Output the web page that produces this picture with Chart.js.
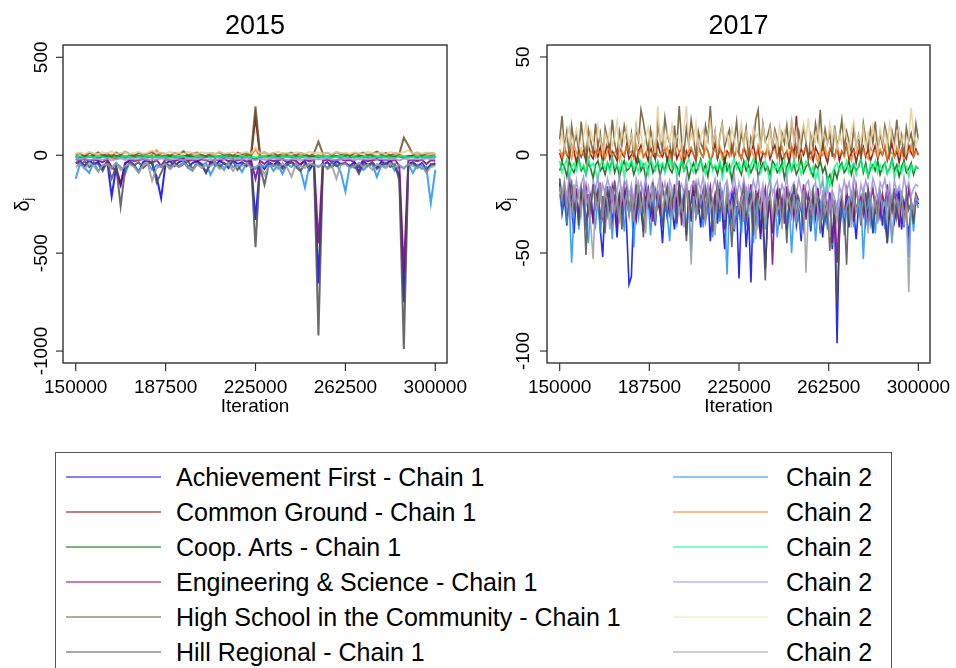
<!DOCTYPE html>
<html>
<head>
<meta charset="utf-8">
<title>Trace plots 2015 / 2017</title>
<script src="https://cdn.jsdelivr.net/npm/chart.js@4.4.1/dist/chart.umd.min.js"></script>
<style>
  body { margin: 0; background: #fff; width: 956px; height: 668px; overflow: hidden; position: relative;
         font-family: 'Liberation Sans', Arial, sans-serif; }
  canvas { position: absolute; top: 0; }
  #chart2015 { left: 0; }
  #chart2017 { left: 478px; }
  #legend { position: absolute; left: 55px; top: 452px; width: 835px; height: 260px; border: 1px solid #555; }
  .swatch { position: absolute; height: 2px; width: 95px; }
  .label { position: absolute; font-size: 25px; line-height: 30px; white-space: nowrap; color: #000; }
</style>
</head>
<body>
<canvas id="chart2015" width="478" height="440"></canvas>
<canvas id="chart2017" width="478" height="440"></canvas>
<div id="legend"></div>
<script>
// Iteration numbers of the kept draws (2015 thinned more than 2017)
const iterations2015 = [150000, 151875, 153750, 155625, 157500, 159375, 161250, 163125, 165000, 166875,
  168750, 170625, 172500, 174375, 176250, 178125, 180000, 181875, 183750, 185625,
  187500, 189375, 191250, 193125, 195000, 196875, 198750, 200625, 202500, 204375,
  206250, 208125, 210000, 211875, 213750, 215625, 217500, 219375, 221250, 223125,
  225000, 226875, 228750, 230625, 232500, 234375, 236250, 238125, 240000, 241875,
  243750, 245625, 247500, 249375, 251250, 253125, 255000, 256875, 258750, 260625,
  262500, 264375, 266250, 268125, 270000, 271875, 273750, 275625, 277500, 279375,
  281250, 283125, 285000, 286875, 288750, 290625, 292500, 294375, 296250, 298125, 300000];
const iterations2017 = [150000, 151000, 152000, 153000, 154000, 155000, 156000, 157000, 158000, 159000,
  160000, 161000, 162000, 163000, 164000, 165000, 166000, 167000, 168000, 169000,
  170000, 171000, 172000, 173000, 174000, 175000, 176000, 177000, 178000, 179000,
  180000, 181000, 182000, 183000, 184000, 185000, 186000, 187000, 188000, 189000,
  190000, 191000, 192000, 193000, 194000, 195000, 196000, 197000, 198000, 199000,
  200000, 201000, 202000, 203000, 204000, 205000, 206000, 207000, 208000, 209000,
  210000, 211000, 212000, 213000, 214000, 215000, 216000, 217000, 218000, 219000,
  220000, 221000, 222000, 223000, 224000, 225000, 226000, 227000, 228000, 229000,
  230000, 231000, 232000, 233000, 234000, 235000, 236000, 237000, 238000, 239000,
  240000, 241000, 242000, 243000, 244000, 245000, 246000, 247000, 248000, 249000,
  250000, 251000, 252000, 253000, 254000, 255000, 256000, 257000, 258000, 259000,
  260000, 261000, 262000, 263000, 264000, 265000, 266000, 267000, 268000, 269000,
  270000, 271000, 272000, 273000, 274000, 275000, 276000, 277000, 278000, 279000,
  280000, 281000, 282000, 283000, 284000, 285000, 286000, 287000, 288000, 289000,
  290000, 291000, 292000, 293000, 294000, 295000, 296000, 297000, 298000, 299000, 300000];

const xTicks = [150000, 187500, 225000, 262500, 300000];
const yTicks2015 = [500, 0, -500, -1000];
const yTicks2017 = [50, 0, -50, -100];

const schools = ['Achievement First', 'Common Ground', 'Coop. Arts', 'Engineering & Science',
  'High School in the Community', 'Hill Regional'];

// ---- 2015 draws ----
const af1_2015 = [-40,-30,-55,-25,-45,-35,-70,-30,-210,-60,-150,-40,-30,-50,-85,-35,-25,-45,-110,-220,
  -40,-30,-55,-35,-25,-60,-40,-30,-45,-90,-35,-50,-30,-40,-65,-25,-45,-35,-55,-30,
  -330,-45,-70,-35,-50,-30,-60,-40,-35,-55,-45,-30,-75,-40,-655,-50,-35,-60,-30,-45,
  -40,-55,-35,-85,-30,-50,-40,-65,-35,-45,-30,-60,-100,-750,-45,-35,-55,-40,-70,-50,-40];
const af2_2015 = [-120,-40,-65,-90,-35,-80,-50,-45,-70,-40,-60,-95,-35,-55,-85,-45,-40,-75,-50,-60,
  -40,-70,-45,-55,-35,-65,-80,-45,-50,-40,-100,-55,-45,-75,-35,-60,-50,-85,-40,-55,
  -70,-45,-60,-40,-80,-50,-95,-45,-60,-40,-75,-165,-50,-45,-60,-40,-70,-55,-45,-90,
  -185,-50,-65,-40,-75,-55,-45,-110,-50,-60,-40,-80,-55,-65,-45,-90,-50,-70,-60,-245,-75];
const cg1_2015 = [-5,-10,0,-8,-3,-12,-6,-2,-9,-15,-4,-7,-1,-10,-5,-8,-3,-11,-6,-2,
  -9,-4,-7,-12,-3,-6,-10,-1,-8,-5,-2,-9,-6,-11,-3,-7,-4,-10,-2,-8,
  200,-5,-9,-3,-7,-12,-4,-8,-1,-6,-10,-3,-7,-5,-2,-9,-6,-11,-4,-8,
  -3,-7,-10,-2,-6,-9,-4,-12,-5,-1,-8,-6,-3,-10,-7,-4,-9,-2,-6,-11,-5];
const cg2_2015 = [-2,-6,1,-4,-8,0,-3,-7,2,-5,-1,-9,-3,0,-6,-2,-4,3,25,-5,
  -1,-7,-3,0,-5,-8,-2,1,-4,-6,-1,-3,-7,0,-5,-2,-8,-4,1,-3,
  30,-6,-2,-5,0,-7,-3,-1,-4,-8,2,-5,-2,-6,-1,-3,-7,0,-4,-2,
  -6,1,-3,-5,-8,-2,0,-4,-6,-1,-3,-7,2,-5,-2,-4,0,-6,-3,-1,-4];
const coop1_2015 = [-8,-12,-5,-10,-7,-14,-6,-9,-11,-4,-8,-13,-7,-10,-5,-9,-12,-6,-8,-11,
  -5,-10,-7,-13,-9,-4,-8,-11,-6,-10,-7,-12,-5,-9,-8,-14,-6,-10,-7,-11,
  -20,-8,-12,-5,-9,-7,-13,-6,-10,-8,-11,-4,-9,-7,-12,-6,-10,-8,-5,-13,
  -7,-9,-11,-6,-8,-12,-5,-10,-7,-9,-13,-6,-8,-11,-7,-4,-10,-8,-12,-6,-9];
const coop2_2015 = [-10,-6,-13,-8,-11,-5,-9,-14,-7,-12,-10,-6,-8,-13,-9,-11,-5,-10,-7,-12,
  -9,-14,-6,-10,-8,-11,-13,-7,-9,-5,-12,-10,-8,-6,-11,-9,-13,-7,-10,-8,
  -12,-6,-9,-11,-7,-14,-8,-10,-5,-12,-9,-7,-11,-13,-6,-10,-8,-12,-9,-7,
  -11,-5,-10,-13,-8,-6,-12,-9,-7,-11,-10,-14,-6,-8,-12,-9,-5,-11,-7,-10,-8];
const eng1_2015 = [-20,-25,-18,-30,-22,-28,-35,-20,-60,-80,-150,-45,-22,-30,-25,-20,-28,-40,-24,-55,
  -20,-26,-30,-22,-18,-28,-24,-32,-20,-26,-35,-22,-28,-19,-30,-24,-27,-21,-33,-25,
  -120,-28,-45,-22,-30,-26,-20,-35,-24,-28,-50,-22,-30,-25,-450,-28,-22,-32,-25,-20,
  -28,-24,-35,-60,-22,-30,-26,-20,-28,-25,-32,-22,-55,-600,-28,-24,-30,-22,-45,-26,-28];
const eng2_2015 = [-18,-22,-16,-25,-20,-17,-23,-19,-26,-21,-15,-24,-18,-22,-20,-17,-25,-19,-23,-16,
  -21,-24,-18,-20,-26,-17,-22,-19,-15,-23,-20,-25,-18,-21,-16,-24,-19,-22,-17,-20,
  -25,-18,-23,-21,-16,-22,-19,-24,-20,-17,-26,-21,-18,-23,-19,-20,-15,-22,-24,-18,
  -21,-17,-25,-19,-22,-20,-16,-23,-18,-24,-21,-19,-26,-17,-20,-22,-18,-23,-16,-21,-19];
const hsc1_2015 = [5,10,-5,12,3,15,0,8,-8,14,2,18,6,-3,11,4,9,16,1,13,
  7,-2,12,5,20,0,9,14,3,-6,11,6,15,2,8,-4,13,5,10,1,
  250,8,15,3,11,-2,9,6,14,0,12,4,-5,10,70,7,13,2,16,5,
  9,-3,11,6,14,1,8,18,4,12,-1,10,7,90,50,5,13,2,9,11,6];
const hsc2_2015 = [8,14,6,18,10,5,15,9,20,7,12,16,6,11,18,8,13,25,10,14,
  7,16,9,12,5,17,11,8,15,10,13,6,19,9,12,15,7,11,16,8,
  40,10,14,7,12,18,9,13,6,15,11,8,17,10,14,9,12,6,16,11,
  13,8,15,10,7,18,12,9,14,6,16,10,12,15,25,9,13,8,14,11,10];
const hill1_2015 = [-35,-50,-30,-60,-40,-45,-80,-35,-120,-55,-260,-70,-40,-50,-35,-65,-45,-30,-140,-90,
  -40,-55,-35,-60,-45,-30,-70,-40,-50,-85,-45,-35,-60,-40,-55,-30,-75,-45,-50,-40,
  -470,-60,-150,-45,-55,-40,-70,-50,-35,-60,-80,-45,-55,-40,-920,-50,-65,-35,-55,-45,
  -40,-60,-50,-95,-45,-55,-35,-70,-50,-40,-60,-45,-130,-990,-55,-40,-65,-50,-85,-45,-50];
const hill2_2015 = [-60,-45,-70,-40,-55,-85,-50,-45,-65,-40,-75,-55,-45,-60,-90,-50,-40,-130,-65,-55,
  -45,-70,-50,-60,-40,-55,-75,-45,-65,-50,-55,-40,-70,-60,-45,-80,-50,-55,-40,-65,
  -60,-45,-100,-55,-50,-70,-40,-60,-110,-45,-55,-65,-40,-50,-60,-45,-70,-55,-120,-50,
  -45,-65,-55,-40,-60,-50,-75,-45,-55,-65,-40,-60,-50,-70,-45,-55,-65,-50,-90,-60,-55];

// ---- 2017 draws ----
const af1_2017 = [-14,-30,-22,-36,-18,-27,-40,-20,-31,-24,-17,-35,-26,-21,-33,
  -25,-19,-38,-52,-23,-29,-16,-34,-27,-42,-21,-30,-18,-37,-66,
  -62,-26,-33,-20,-28,-39,-22,-17,-31,-25,-36,-19,-29,-45,-24,
  -32,-20,-27,-38,-23,-16,-30,-26,-41,-21,-34,-18,-28,-24,-37,
  -22,-31,-19,-44,-27,-23,-35,-20,-29,-48,-25,-33,-18,-39,-26,
  -63,-28,-22,-47,-30,-65,-24,-36,-21,-43,-27,-58,-32,-23,-40,
  -26,-19,-34,-29,-22,-38,-25,-31,-17,-36,-28,-44,-21,-30,-26,
  -39,-23,-32,-19,-28,-42,-25,-35,-20,-48,-30,-96,-38,-27,-33,
  -24,-37,-21,-29,-43,-26,-31,-19,-35,-28,-23,-40,-27,-32,-20,
  -36,-25,-45,-29,-22,-34,-27,-18,-38,-24,-31,-41,-26,-33,-22, -25];
const af2_2017 = [-20,-28,-17,-35,-24,-55,-30,-21,-38,-26,-19,-33,-45,-23,-29,
  -36,-22,-40,-27,-18,-31,-25,-43,-20,-34,-28,-24,-39,-21,-30,
  -26,-47,-23,-32,-19,-37,-28,-22,-41,-25,-33,-18,-29,-36,-24,
  -31,-44,-20,-27,-35,-23,-30,-17,-38,-26,-49,-22,-32,-28,-21,
  -37,-25,-30,-19,-42,-27,-23,-34,-20,-29,-61,-26,-35,-22,-31,
  -28,-40,-24,-33,-19,-27,-45,-22,-36,-30,-25,-38,-21,-29,-34,
  -23,-42,-27,-31,-20,-36,-25,-50,-28,-22,-33,-39,-24,-30,-26,
  -35,-21,-44,-29,-24,-32,-27,-38,-20,-46,-31,-25,-34,-23,-41,
  -28,-33,-22,-37,-26,-30,-24,-53,-29,-21,-35,-27,-40,-23,-32,
  -26,-38,-22,-31,-45,-27,-24,-36,-20,-33,-28,-52,-25,-39,-23, -27];
const cg1_2017 = [1,-3,4,0,-2,5,2,-4,3,-1,2,-3,5,0,-2,
  3,-1,4,-4,1,6,-2,2,0,-3,4,1,-1,5,-2,
  0,3,-4,2,5,-1,1,-3,4,0,-2,6,1,-1,3,
  -3,2,0,5,-2,1,4,-4,2,-1,3,0,-3,5,1,
  -1,4,2,-3,0,6,-2,3,1,-4,2,0,5,-1,3,
  1,-2,4,0,-3,2,5,-1,3,-4,1,0,4,-2,2,
  5,-1,3,-3,0,2,-4,4,1,20,-2,3,0,5,-1,
  2,-3,4,1,-2,6,0,-4,3,1,-1,4,-3,2,0,
  5,-2,1,3,-4,2,0,4,-1,3,-3,1,5,-2,2,
  0,4,-3,1,6,-1,2,-4,3,0,-2,5,1,-1,3, 0];
const cg2_2017 = [3,-1,4,0,2,-2,5,1,-1,3,0,4,-3,2,1,
  -1,3,0,5,-2,2,4,-1,1,3,-3,2,0,4,1,
  2,-2,5,0,3,-1,1,4,-3,2,6,0,-1,3,1,
  4,-2,2,0,5,1,-3,3,-1,2,4,0,-2,3,1,
  -1,5,2,-3,1,3,0,4,-2,2,1,-1,5,0,3,
  1,-2,4,2,-1,3,0,-3,5,1,2,-1,4,0,2,
  3,-1,1,4,-2,2,0,5,-3,1,3,-1,2,4,0,
  -2,3,1,-4,2,0,4,-1,3,1,-2,5,0,2,-1,
  4,0,-3,2,1,5,-1,3,0,-2,4,1,2,-1,3,
  0,5,-2,2,1,-1,4,0,3,-3,2,1,5,-1,2, 1];
const coop1_2017 = [-8,-4,-6,-11,-3,-7,-9,-5,-2,-8,-6,-10,-4,-7,-12,
  -5,-3,-8,-6,-10,-4,-7,-2,-9,-5,-11,-6,-3,-8,-7,
  -4,-10,-6,-2,-8,-5,-12,-7,-3,-9,-6,-4,-11,-5,-8,
  -2,-7,-9,-4,-6,-10,-3,-8,-5,-12,-7,-4,-9,-6,-2,
  -8,-5,-11,-3,-7,-6,-10,-4,-9,-2,-8,-5,-13,-6,-4,
  -7,-10,-3,-8,-5,-9,-6,-2,-11,-7,-4,-8,-6,-10,-3,
  -5,-9,-7,-4,-12,-6,-3,-8,-5,-10,-7,-2,-9,-6,-4,
  -8,-11,-5,-7,-3,-9,-6,-13,-10,-15,-8,-12,-6,-4,-9,
  -7,-3,-10,-5,-8,-6,-2,-9,-4,-11,-7,-5,-8,-3,-10,
  -6,-4,-9,-7,-2,-8,-5,-11,-6,-3,-9,-7,-4,-10,-6, -7];
const coop2_2017 = [-3,-9,-5,-2,-12,-6,-4,-8,-3,-7,-5,-10,-2,-6,-4,
  -8,-13,-5,-3,-7,-4,-9,-2,-6,-5,-8,-3,-11,-4,-6,
  -2,-7,-5,-9,-3,-6,-4,-10,-2,-5,-8,-3,-6,-4,-9,
  -5,-2,-7,-4,-11,-6,-3,-8,-5,-2,-6,-9,-4,-7,-3,
  -6,-10,-4,-2,-8,-5,-7,-3,-12,-6,-4,-9,-5,-2,-7,
  -4,-8,-6,-3,-10,-5,-2,-7,-4,-9,-6,-3,-8,-15,-5,
  -7,-4,-9,-6,-3,-11,-5,-8,-2,-6,-4,-10,-7,-3,-5,
  -9,-6,-12,-8,-17,-14,-20,-11,-16,-9,-6,-4,-8,-5,-7,
  -3,-9,-6,-4,-10,-5,-2,-8,-6,-11,-4,-7,-3,-9,-5,
  -8,-4,-10,-6,-3,-12,-7,-5,-9,-4,-6,-11,-5,-8,-6, -7];
const eng1_2017 = [-15,-24,-18,-30,-13,-22,-27,-17,-33,-20,-25,-16,-29,-21,-35,
  -18,-26,-14,-31,-22,-19,-28,-16,-24,-37,-20,-27,-15,-23,-30,
  -19,-25,-32,-17,-22,-28,-14,-26,-21,-34,-18,-24,-29,-16,-23,
  -27,-20,-31,-15,-25,-19,-36,-22,-17,-28,-24,-13,-30,-21,-26,
  -18,-33,-23,-16,-27,-20,-29,-14,-25,-38,-19,-24,-31,-17,-22,
  -28,-21,-34,-18,-26,-15,-30,-23,-19,-40,-24,-17,-32,-20,-56,
  -25,-18,-29,-22,-35,-16,-27,-21,-31,-19,-24,-28,-15,-33,-20,
  -26,-22,-30,-17,-38,-24,-20,-29,-19,-45,-23,-55,-28,-21,-32,
  -18,-27,-24,-34,-16,-25,-21,-30,-19,-36,-23,-17,-28,-22,-31,
  -20,-26,-15,-33,-23,-29,-18,-37,-21,-25,-30,-17,-24,-28,-20, -23];
const eng2_2017 = [-12,-19,-14,-22,-10,-17,-24,-13,-20,-15,-11,-21,-16,-25,-13,
  -18,-11,-23,-15,-20,-12,-17,-26,-14,-19,-10,-22,-16,-13,-21,
  -15,-24,-12,-18,-14,-20,-11,-23,-17,-13,-21,-16,-10,-19,-14,
  -22,-13,-17,-25,-12,-18,-15,-20,-11,-24,-16,-14,-21,-13,-18,
  -11,-20,-15,-23,-17,-12,-19,-14,-26,-16,-13,-21,-18,-10,-22,
  -14,-19,-12,-24,-16,-20,-13,-18,-11,-22,-15,-27,-17,-12,-20,
  -16,-13,-21,-15,-19,-11,-23,-17,-14,-20,-12,-18,-25,-15,-13,
  -21,-17,-14,-24,-19,-12,-26,-15,-28,-18,-22,-30,-16,-20,-13,
  -19,-14,-22,-11,-17,-24,-15,-20,-13,-18,-21,-12,-16,-23,-14,
  -17,-12,-20,-15,-25,-13,-19,-16,-22,-11,-18,-14,-21,-17,-15, -16];
const hsc1_2017 = [8,20,3,12,-1,15,6,10,2,17,5,-3,13,7,1,
  16,4,11,-2,14,8,3,18,6,0,12,5,15,9,2,
  11,-1,14,7,23,17,9,2,13,5,-2,16,8,3,19,
  10,6,-3,15,4,25,7,1,14,5,18,9,-1,12,6,
  3,15,8,25,5,12,-2,10,16,4,9,13,1,7,17,
  2,11,6,14,-1,9,5,18,23,3,16,7,10,15,4,
  13,8,-2,11,6,15,3,17,9,1,12,5,14,7,-3,
  10,4,16,8,23,2,13,6,11,-1,15,5,9,18,3,
  12,7,1,14,5,10,-2,16,8,3,13,6,17,2,11,
  5,15,9,0,12,6,18,4,10,-1,14,7,11,3,16, 8];
const hsc2_2017 = [5,11,3,9,14,2,8,13,6,1,10,16,4,12,7,
  3,15,8,1,11,6,13,4,9,17,2,12,7,14,5,
  10,3,16,8,12,2,9,14,5,11,1,25,7,13,4,
  12,6,15,3,10,8,1,14,25,5,11,7,16,2,9,
  13,4,10,17,6,12,2,9,15,7,11,3,14,8,1,
  10,16,5,12,7,3,14,9,11,4,15,8,2,13,6,
  11,3,15,7,12,5,9,18,6,13,2,10,16,8,19,
  4,11,7,14,2,12,9,5,16,8,13,3,10,6,15,
  9,2,12,17,5,10,7,14,3,11,6,15,8,1,13,
  7,12,4,16,9,3,11,14,6,10,2,8,24,11,5, 9];
const hill1_2017 = [-12,-25,-16,-31,-19,-14,-28,-22,-36,-17,-24,-51,-20,-29,-15,
  -26,-18,-33,-21,-40,-16,-27,-23,-13,-30,-19,-38,-24,-17,-28,
  -21,-34,-15,-26,-19,-42,-23,-18,-29,-14,-32,-25,-20,-37,-22,
  -16,-30,-24,-19,-35,-13,-27,-21,-44,-18,-31,-25,-15,-28,-22,
  -33,-17,-26,-20,-39,-23,-15,-29,-21,-36,-18,-27,-47,-24,-19,
  -30,-22,-16,-34,-25,-20,-41,-18,-28,-23,-35,-64,-27,-19,-38,
  -21,-29,-17,-32,-24,-45,-20,-26,-15,-33,-22,-28,-37,-19,-25,
  -31,-18,-27,-23,-40,-20,-34,-26,-49,-22,-30,-76,-42,-25,-29,
  -56,-21,-33,-18,-28,-24,-36,-20,-30,-17,-27,-39,-23,-31,-19,
  -26,-34,-45,-21,-29,-17,-32,-25,-22,-37,-19,-28,-24,-35,-20, -23];
const hill2_2017 = [-16,-23,-13,-28,-19,-33,-15,-25,-20,-30,-17,-26,-22,-36,-53,
  -21,-27,-14,-32,-19,-24,-38,-17,-29,-22,-35,-16,-26,-20,-31,
  -18,-34,-23,-15,-28,-21,-40,-19,-25,-17,-32,-24,-14,-29,-20,
  -26,-16,-33,-22,-18,-30,-24,-37,-15,-27,-56,-21,-31,-19,-25,
  -20,-35,-17,-28,-23,-41,-18,-26,-21,-33,-16,-29,-24,-38,-19,
  -27,-22,-34,-17,-30,-25,-20,-43,-23,-28,-18,-36,-24,-21,-32,
  -19,-29,-25,-38,-17,-26,-22,-31,-20,-35,-24,-27,-18,-60,-28,
  -23,-33,-20,-27,-36,-18,-30,-25,-42,-21,-28,-34,-24,-19,-31,
  -26,-22,-37,-20,-29,-24,-33,-18,-27,-40,-21,-30,-23,-35,-19,
  -28,-24,-32,-20,-44,-26,-22,-30,-18,-36,-25,-70,-23,-29,-21, -24];

// Series per school: [chain 1, chain 2]
const series2015 = [[af1_2015, af2_2015], [cg1_2015, cg2_2015], [coop1_2015, coop2_2015],
  [eng1_2015, eng2_2015], [hsc1_2015, hsc2_2015], [hill1_2015, hill2_2015]];
const series2017 = [[af1_2017, af2_2017], [cg1_2017, cg2_2017], [coop1_2017, coop2_2017],
  [eng1_2017, eng2_2017], [hsc1_2017, hsc2_2017], [hill1_2017, hill2_2017]];

// Line colours (rgb), chain 1 and chain 2
const chain1Colors = ['0,0,255', '128,0,0', '0,100,0', '128,0,128', '105,85,45', '80,80,80'];
const chain2Colors = ['30,144,255', '240,128,32', '0,255,127', '159,145,225', '232,205,150', '155,155,160'];
// legend swatches are lighter (semi-transparent) versions
const legendChain2Colors = ['30,144,255', '240,128,32', '0,255,127', '159,145,225', '245,222,179', '160,160,160'];

const FONT = '"Liberation Sans", Arial, sans-serif';

// Draws the Stata-like frame: box, ticks, rotated y labels, titles
const framePlugin = {
  id: 'frame',
  afterDraw(chart, args, opts) {
    const { ctx, chartArea: a } = chart;
    const x = chart.scales.x, y = chart.scales.y;
    ctx.save();
    ctx.strokeStyle = '#333';
    ctx.lineWidth = 1.4;
    ctx.strokeRect(a.left, a.top, a.right - a.left, a.bottom - a.top);

    ctx.fillStyle = '#000';
    ctx.textAlign = 'center';
    ctx.textBaseline = 'middle';
    ctx.font = '19px ' + FONT;
    ctx.lineWidth = 1.2;
    xTicks.forEach(v => {
      const px = x.getPixelForValue(v);
      ctx.beginPath(); ctx.moveTo(px, a.bottom); ctx.lineTo(px, a.bottom + 8); ctx.stroke();
      ctx.fillText(String(v), px, a.bottom + 25);
    });
    ctx.fillText('Iteration', (a.left + a.right) / 2, a.bottom + 44);

    opts.yTicks.forEach(v => {
      const py = y.getPixelForValue(v);
      ctx.beginPath(); ctx.moveTo(a.left, py); ctx.lineTo(a.left - 7, py); ctx.stroke();
      ctx.save();
      ctx.translate(opts.yLabelX, py);
      ctx.rotate(-Math.PI / 2);
      ctx.fillText(String(v), 0, 0);
      ctx.restore();
    });

    // y-axis title: delta with subscript j
    ctx.save();
    ctx.translate(opts.yTitleX, 203);
    ctx.rotate(-Math.PI / 2);
    ctx.textAlign = 'left';
    ctx.font = '20px ' + FONT;
    const wd = ctx.measureText('δ').width;
    ctx.fillText('δ', -wd / 2 - 3, 0);
    ctx.font = '12px ' + FONT;
    ctx.fillText('j', wd / 2 - 3, 6);
    ctx.restore();

    ctx.font = '27px ' + FONT;
    ctx.fillText(opts.title, (a.left + a.right) / 2, 27);
    ctx.restore();
  }
};

function buildDatasets(series, iters, width) {
  const sets = [];
  let k = 0;
  series.forEach((pair, i) => {
    pair.forEach((values, c) => {
      const rgb = c === 0 ? chain1Colors[i] : chain2Colors[i];
      sets.push({
        label: schools[i] + ' - Chain ' + (c + 1),
        data: values.map((v, j) => ({ x: iters[j], y: v })),
        borderColor: 'rgba(' + rgb + ',0.85)',
        borderWidth: width,
        pointRadius: 0,
        tension: 0,
        order: -k
      });
      k++;
    });
  });
  return sets;
}

function makeChart(id, title, series, iters, width, yMin, yMax, yTicks, padLeft, padRight, yLabelX, yTitleX) {
  return new Chart(document.getElementById(id), {
    type: 'line',
    data: { datasets: buildDatasets(series, iters, width) },
    options: {
      responsive: false,
      animation: false,
      layout: { padding: { left: padLeft, right: padRight, top: 45, bottom: 77 } },
      plugins: {
        legend: { display: false },
        tooltip: { enabled: false },
        frame: { title: title, yTicks: yTicks, yLabelX: yLabelX, yTitleX: yTitleX }
      },
      scales: {
        x: { type: 'linear', min: 144700, max: 304880, display: false },
        y: { type: 'linear', min: yMin, max: yMax, display: false }
      }
    },
    plugins: [framePlugin]
  });
}

makeChart('chart2015', '2015', series2015, iterations2015, 2, -1061, 563, yTicks2015, 63, 31, 42, 23);
makeChart('chart2017', '2017', series2017, iterations2017, 1.6, -106.1, 56.1, yTicks2017, 69, 26, 46, 27);

// Legend: chain 1 in the left column, chain 2 in the right column
function renderLegend() {
  const box = document.getElementById('legend');
  schools.forEach((name, i) => {
    const top = 24 + i * 35;
    [[10, 120, chain1Colors[i], name + ' - Chain 1'], [617, 730, legendChain2Colors[i], 'Chain 2']]
      .forEach(([sx, tx, rgb, text]) => {
        const sw = document.createElement('div');
        sw.className = 'swatch';
        sw.style.left = sx + 'px';
        sw.style.top = (top - 1) + 'px';
        sw.style.background = 'rgba(' + rgb + ',0.5)';
        box.appendChild(sw);
        const lb = document.createElement('div');
        lb.className = 'label';
        lb.style.left = tx + 'px';
        lb.style.top = (top - 15) + 'px';
        lb.textContent = text;
        box.appendChild(lb);
      });
  });
}
renderLegend();
</script>
</body>
</html>
